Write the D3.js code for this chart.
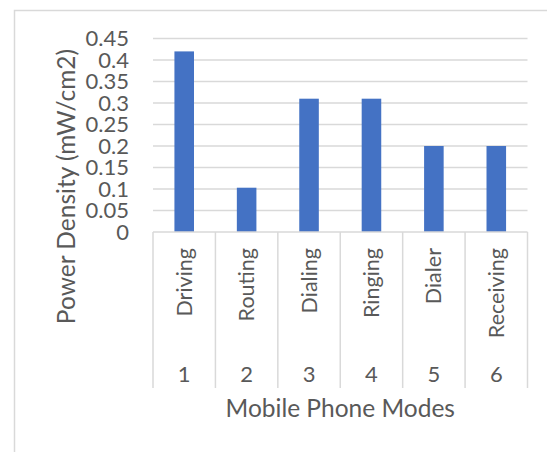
<!DOCTYPE html>
<html>
<head>
<meta charset="utf-8">
<script src="https://cdn.jsdelivr.net/npm/d3@7"></script>
<style>
    body { margin: 0; background: #fff; }
    text { font-family: Lato, "Open Sans", sans-serif; fill: #595959; }
</style>
</head>
<body>
<div id="chart"></div>
<script>
const modes = ["Driving", "Routing", "Dialing", "Ringing", "Dialer", "Receiving"];
const modeNumbers = ["1", "2", "3", "4", "5", "6"];
const powerDensity = [0.42, 0.103, 0.31, 0.31, 0.2, 0.2];
const yTicks = [0, 0.05, 0.1, 0.15, 0.2, 0.25, 0.3, 0.35, 0.4, 0.45];

const W = 547, H = 452;
const margin = { top: 38.5, right: 19.5, bottom: 220, left: 153 };
const width = W - margin.left - margin.right;
const height = 232 - margin.top;

const svg = d3.select("#chart").append("svg")
    .attr("width", W)
    .attr("height", H);

// chart frame (only left/top edges visible in the crop)
svg.append("path")
    .attr("d", `M14.5,${H} V10.5 H${W}`)
    .attr("fill", "none")
    .attr("stroke", "#d9d9d9")
    .attr("stroke-width", 1.5);

const g = svg.append("g")
    .attr("transform", `translate(${margin.left}, ${margin.top})`);

const x = d3.scaleBand()
    .domain(modes)
    .range([0, width]);

const y = d3.scaleLinear()
    .domain([0, 0.45])
    .range([height, 0]);

// gridlines
g.append("g")
    .selectAll("line")
    .data(yTicks.filter(d => d > 0))
    .enter()
    .append("line")
    .attr("x1", 0)
    .attr("x2", width)
    .attr("y1", d => y(d))
    .attr("y2", d => y(d))
    .attr("stroke", "#d9d9d9")
    .attr("stroke-width", 1.5);

// y tick labels
g.append("g")
    .selectAll("text")
    .data(yTicks)
    .enter()
    .append("text")
    .attr("x", -24)
    .attr("y", d => y(d))
    .attr("dy", "0.36em")
    .attr("text-anchor", "end")
    .style("font-size", "22px")
    .text(d => d3.format("")(+d.toFixed(2)));

// bars, Excel gap width ~219%
const barW = x.bandwidth() / 3.19;
g.append("g")
    .selectAll("rect")
    .data(modes)
    .enter()
    .append("rect")
    .attr("x", d => x(d) + (x.bandwidth() - barW) / 2)
    .attr("y", (d, i) => y(powerDensity[i]))
    .attr("width", barW)
    .attr("height", (d, i) => height - y(powerDensity[i]))
    .attr("fill", "#4472c4");

// category axis line and separators
const axisG = g.append("g").attr("transform", `translate(0, ${height})`);
axisG.append("line")
    .attr("x1", 0).attr("x2", width)
    .attr("y1", 0).attr("y2", 0)
    .attr("stroke", "#d9d9d9").attr("stroke-width", 1.5);

const seps = modes.map(d => x(d)).concat([width]);
axisG.selectAll("line.sep")
    .data(seps)
    .enter()
    .append("line")
    .attr("class", "sep")
    .attr("x1", d => d).attr("x2", d => d)
    .attr("y1", 0).attr("y2", 156)
    .attr("stroke", "#d9d9d9").attr("stroke-width", 1.5);

// rotated mode names
axisG.selectAll("text.mode")
    .data(modes)
    .enter()
    .append("text")
    .attr("class", "mode")
    .attr("transform", d => `translate(${x(d) + x.bandwidth() / 2}, 16) rotate(-90)`)
    .attr("dy", "0.35em")
    .attr("text-anchor", "end")
    .style("font-size", "21.5px")
    .text(d => d);

// mode numbers
axisG.selectAll("text.num")
    .data(modes)
    .enter()
    .append("text")
    .attr("class", "num")
    .attr("x", d => x(d) + x.bandwidth() / 2)
    .attr("y", 149.5)
    .attr("text-anchor", "middle")
    .style("font-size", "22px")
    .text((d, i) => modeNumbers[i]);

// axis titles
svg.append("text")
    .attr("x", margin.left + width / 2)
    .attr("y", 417)
    .attr("text-anchor", "middle")
    .style("font-size", "24.5px")
    .text("Mobile Phone Modes");

svg.append("text")
    .attr("transform", "translate(66, 186.5) rotate(-90)")
    .attr("dy", "0.35em")
    .attr("text-anchor", "middle")
    .style("font-size", "24.5px")
    .text("Power Density (mW/cm2)");
</script>
</body>
</html>
